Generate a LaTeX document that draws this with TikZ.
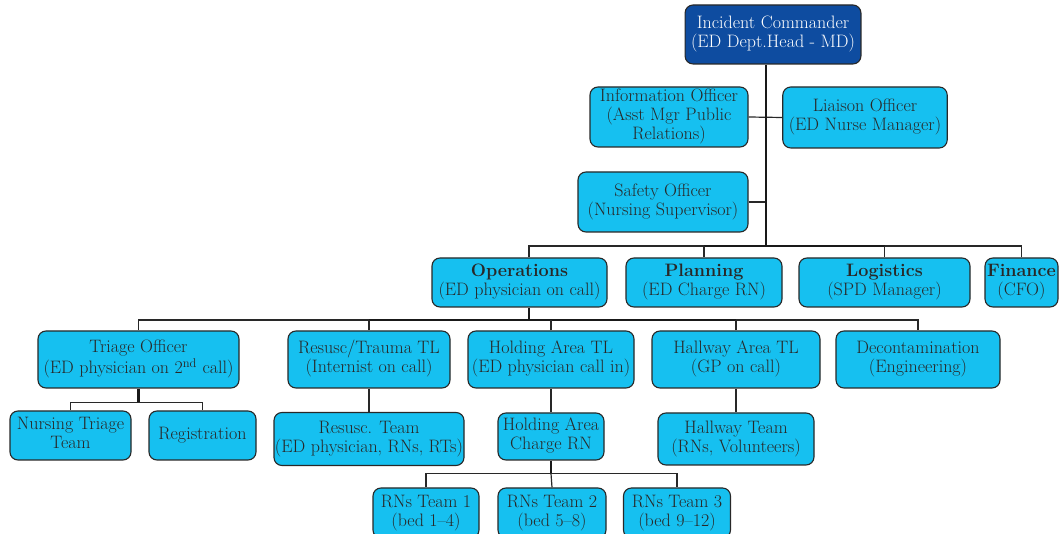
\documentclass[tikz,border=0pt]{standalone}
\usepackage{xcolor}
\usepackage{tikz}
\definecolor{icsblue}{RGB}{22,192,240}
\definecolor{icsnavy}{RGB}{14,76,160}
\definecolor{icsline}{RGB}{40,40,40}
\definecolor{icstext}{RGB}{40,40,40}

\begin{document}
\begin{tikzpicture}[x=1pt, y=-1pt,
    unit/.style={draw=icsline, fill=icsblue, rounded corners=8pt, line width=1.1pt,
        text=icstext, inner sep=0pt, font=\fontsize{18}{19}\selectfont},
    chief/.style={unit, fill=icsnavy, text=white},
    link/.style={icsline, line width=1.2pt},
    spine/.style={black!90, line width=2.6pt}]
    \useasboundingbox (0,0) rectangle (1061,534);
    \clip (0,0) rectangle (1061,534);

    % Incident Commander
    \node[chief, minimum width=174pt, minimum height=59pt] (ic) at (773,34.5) {
        \begin{tabular}{c}
        Incident Commander\\
        (ED Dept.Head - MD)
        \end{tabular}
    };

    % Command staff
    \node[unit, minimum width=158pt, minimum height=60pt] (info) at (669,117) {
        \begin{tabular}{c}
        Information Officer\\
        (Asst Mgr Public\\
        Relations)
        \end{tabular}
    };
    \node[unit, minimum width=162pt, minimum height=61pt] (liaison) at (865,117.5) {
        \begin{tabular}{c}
        Liaison Officer\\
        (ED Nurse Manager)
        \end{tabular}
    };
    \node[unit, minimum width=170pt, minimum height=60pt] (safety) at (663,202) {
        \begin{tabular}{c}
        Safety Officer\\
        (Nursing Supervisor)
        \end{tabular}
    };

    % General staff sections
    \node[unit, minimum width=175pt, minimum height=49pt] (ops) at (519.5,282.5) {
        \begin{tabular}{c}
        \textbf{Operations}\\
        (ED physician on call)
        \end{tabular}
    };
    \node[unit, minimum width=156pt, minimum height=49pt] (plan) at (704,282.5) {
        \begin{tabular}{c}
        \textbf{Planning}\\
        (ED Charge RN)
        \end{tabular}
    };
    \node[unit, minimum width=171pt, minimum height=49pt] (logi) at (884.5,282.5) {
        \begin{tabular}{c}
        \textbf{Logistics}\\
        (SPD Manager)
        \end{tabular}
    };
    \node[unit, minimum width=73pt, minimum height=49pt] (fin) at (1021.5,282.5) {
        \begin{tabular}{@{}c@{}}
        \textbf{Finance}\\
        (CFO)
        \end{tabular}
    };

    % Operations team leaders
    \node[unit, minimum width=201pt, minimum height=57pt] (triage) at (138.5,359.5) {
        \begin{tabular}{@{}c@{}}
        Triage Officer\\
        (ED physician on 2\textsuperscript{nd} call)
        \end{tabular}
    };
    \node[unit, minimum width=162pt, minimum height=57pt] (resus) at (369,359.5) {
        \begin{tabular}{c}
        Resusc/Trauma TL\\
        (Internist on call)
        \end{tabular}
    };
    \node[unit, minimum width=166pt, minimum height=57pt] (holdtl) at (551,359.5) {
        \begin{tabular}{@{}c@{}}
        Holding Area TL\\
        (ED physician call in)
        \end{tabular}
    };
    \node[unit, minimum width=168pt, minimum height=57pt] (halltl) at (736,359.5) {
        \begin{tabular}{c}
        Hallway Area TL\\
        (GP on call)
        \end{tabular}
    };
    \node[unit, minimum width=164pt, minimum height=57pt] (decon) at (918,359.5) {
        \begin{tabular}{c}
        Decontamination\\
        (Engineering)
        \end{tabular}
    };

    % Teams
    \node[unit, minimum width=121pt, minimum height=49pt] (nurse) at (70.5,435.5) {
        \begin{tabular}{@{}c@{}}
        Nursing Triage\\
        Team
        \end{tabular}
    };
    \node[unit, minimum width=107pt, minimum height=49pt] (regis) at (202.5,435.5) {Registration};
    \node[unit, minimum width=190pt, minimum height=53pt] (resteam) at (369,439) {
        \begin{tabular}{@{}c@{}}
        Resusc. Team\\
        (ED physician, RNs, RTs)
        \end{tabular}
    };
    \node[unit, minimum width=106pt, minimum height=47pt] (charge) at (551,436.5) {
        \begin{tabular}{@{}c@{}}
        Holding Area\\
        Charge RN
        \end{tabular}
    };
    \node[unit, minimum width=156pt, minimum height=52pt] (hallteam) at (736,439) {
        \begin{tabular}{c}
        Hallway Team\\
        (RNs, Volunteers)
        \end{tabular}
    };

    % RN teams
    \node[unit, minimum width=106pt, minimum height=50pt] (rn1) at (426,513) {
        \begin{tabular}{c}
        RNs Team 1\\
        (bed 1–4)
        \end{tabular}
    };
    \node[unit, minimum width=108pt, minimum height=50pt] (rn2) at (552,513) {
        \begin{tabular}{c}
        RNs Team 2\\
        (bed 5–8)
        \end{tabular}
    };
    \node[unit, minimum width=107pt, minimum height=50pt] (rn3) at (677,513) {
        \begin{tabular}{c}
        RNs Team 3\\
        (bed 9–12)
        \end{tabular}
    };

    % Connecting lines
    \coordinate (hub) at (766,246);
    \coordinate (opsbar) at (529,320);
    \draw[link] (info.east) -- (liaison.west);
    \draw[link] (safety.east) -- (safety.east -| hub);
    \draw[spine] (ic.south -| hub) -- (hub);
    \draw[link] (ops.north -| opsbar) |- (plan.north |- hub);
    \draw[spine] (plan.north |- hub) -- (logi.north |- hub);
    \draw[link] (logi.north |- hub) -- (fin.north |- hub);
    \foreach \n in {plan,logi,fin}
        \draw[link] (\n.north) -- (\n.north |- hub);

    \draw[spine] (ops.south -| opsbar) -- (opsbar);
    \draw[link] (triage.north) |- (resus.north |- opsbar);
    \draw[spine] (resus.north |- opsbar) -- (halltl.north |- opsbar);
    \draw[link] (halltl.north |- opsbar) -| (decon.north);
    \foreach \n in {resus,holdtl,halltl}
        \draw[link] (\n.north) -- (\n.north |- opsbar);

    \draw[spine] (triage.south) -- ++(0,14) coordinate (trbar);
    \draw[link] (nurse.north) |- (trbar) -| (regis.north);
    \draw[link] (resus.south) -- (resteam.north);
    \draw[link] (holdtl.south) -- (charge.north);
    \draw[link] (halltl.south) -- (hallteam.north);

    \draw[spine] (charge.south) -- ++(0,13) coordinate (rnbar);
    \draw[link] (rn1.north) |- (rnbar) -| (rn3.north);
    \draw[link] (rnbar) -- (rn2.north);
\end{tikzpicture}
\end{document}
